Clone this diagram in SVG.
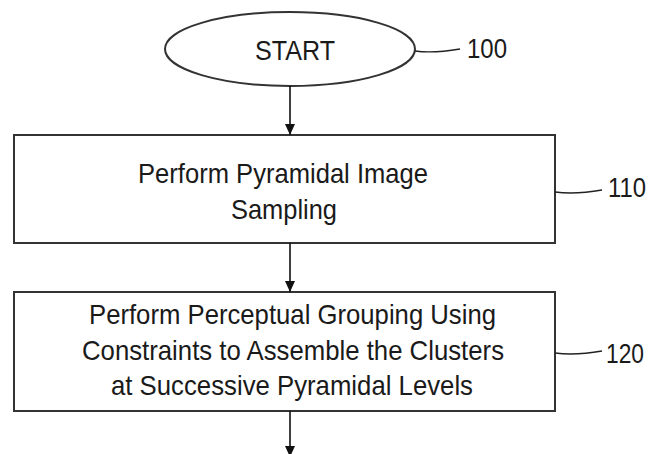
<svg xmlns="http://www.w3.org/2000/svg" width="652" height="454" viewBox="0 0 652 454">
<defs>
<marker id="ah" markerUnits="userSpaceOnUse" markerWidth="10" markerHeight="13" refX="11" refY="5" orient="auto">
<path d="M0,0 L11,5 L0,10 Z" fill="#111"/>
</marker>
<style>
.shape{fill:#fff;stroke:#333;stroke-width:2}
.t{font-family:"Liberation Sans",Arial,sans-serif;font-size:28px;fill:#1a1a1a}
.conn{stroke:#111;stroke-width:1.6;fill:none}
.lead{stroke:#222;stroke-width:1.3;fill:none}
</style>
</defs>
<rect width="652" height="454" fill="#fff"/>
<g id="n100">
<ellipse class="shape" cx="290" cy="49" rx="125" ry="37"/>
<text class="t" x="255" y="60" textLength="80" lengthAdjust="spacingAndGlyphs">START</text>
<path class="lead" d="M415,51 C430,53 442,52 460,49"/>
<text class="t" x="467" y="58" textLength="40" lengthAdjust="spacingAndGlyphs">100</text>
</g>
<g id="n110">
<rect class="shape" x="14" y="135" width="541" height="108"/>
<text class="t" x="138" y="182.5" textLength="290" lengthAdjust="spacingAndGlyphs">Perform Pyramidal Image</text>
<text class="t" x="231" y="218.5" textLength="106" lengthAdjust="spacingAndGlyphs">Sampling</text>
<path class="lead" d="M555,192 C570,194 585,193 602,190"/>
<text class="t" x="608" y="197" textLength="38" lengthAdjust="spacingAndGlyphs">110</text>
</g>
<g id="n120">
<rect class="shape" x="14" y="292" width="541" height="119"/>
<text class="t" x="89" y="324" textLength="407" lengthAdjust="spacingAndGlyphs">Perform Perceptual Grouping Using</text>
<text class="t" x="82" y="360" textLength="422" lengthAdjust="spacingAndGlyphs">Constraints to Assemble the Clusters</text>
<text class="t" x="111" y="395" textLength="362" lengthAdjust="spacingAndGlyphs">at Successive Pyramidal Levels</text>
<path class="lead" d="M555,353 C570,355 585,354 602,351"/>
<text class="t" x="606" y="363" textLength="38" lengthAdjust="spacingAndGlyphs">120</text>
</g>
<g id="connectors">
<line class="conn" x1="290" y1="86" x2="290" y2="135" marker-end="url(#ah)"/>
<line class="conn" x1="290" y1="243" x2="290" y2="292" marker-end="url(#ah)"/>
<line class="conn" x1="290" y1="411" x2="290" y2="457" marker-end="url(#ah)"/>
</g>
</svg>
